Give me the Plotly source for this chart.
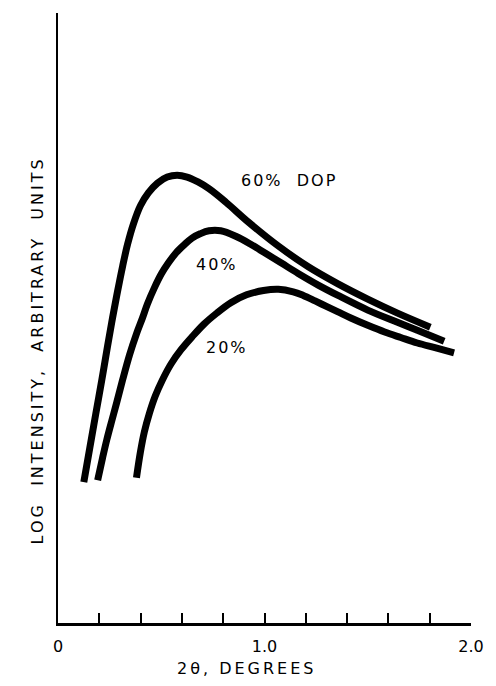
import plotly.graph_objects as go

# Scattering angle 2θ (degrees) and log intensity (arbitrary units) for each degree of polymerisation
x60 = [0.125, 0.154, 0.183, 0.212, 0.240, 0.264, 0.288, 0.313, 0.337, 0.365, 0.399, 0.4375, 0.481,
       0.529, 0.577, 0.625, 0.678, 0.731, 0.8125, 0.923, 1.067, 1.212, 1.356, 1.500, 1.644, 1.803]
y60 = [2.31, 2.87, 3.43, 3.98, 4.54, 5.00, 5.43, 5.85, 6.21, 6.54, 6.84, 7.05, 7.21,
       7.31, 7.34, 7.31, 7.23, 7.12, 6.90, 6.57, 6.18, 5.84, 5.56, 5.31, 5.08, 4.85]

x40 = [0.192, 0.216, 0.236, 0.260, 0.284, 0.3125, 0.346, 0.380, 0.409, 0.433, 0.466, 0.500, 0.534,
       0.572, 0.611, 0.649, 0.688, 0.731, 0.788, 0.861, 0.933, 1.005, 1.082, 1.163, 1.260, 1.356,
       1.500, 1.644, 1.740, 1.870]
y40 = [2.34, 2.71, 3.00, 3.31, 3.61, 3.98, 4.39, 4.74, 5.00, 5.23, 5.49, 5.72, 5.90,
       6.07, 6.20, 6.31, 6.38, 6.43, 6.43, 6.34, 6.21, 6.06, 5.90, 5.73, 5.54, 5.37,
       5.13, 4.93, 4.80, 4.62]

x20 = [0.380, 0.399, 0.418, 0.442, 0.471, 0.505, 0.548, 0.596, 0.649, 0.707, 0.769, 0.837,
       0.913, 0.995, 1.067, 1.139, 1.188, 1.245, 1.300, 1.356, 1.418, 1.500, 1.582, 1.660,
       1.740, 1.830, 1.918]
y20 = [2.38, 2.80, 3.13, 3.43, 3.72, 3.98, 4.25, 4.48, 4.69, 4.90, 5.08, 5.25,
       5.38, 5.45, 5.47, 5.43, 5.37, 5.28, 5.19, 5.10, 5.00, 4.88, 4.77, 4.68,
       4.59, 4.51, 4.43]

tick_vals = [0.0, 0.2, 0.4, 0.6, 0.8, 1.0, 1.2, 1.4, 1.6, 1.8, 2.0]
tick_text = ["0", "", "", "", "", "1.0", "", "", "", "", "2.0"]

# curve labels: (text, x, y)
labels = [
    ("60%&nbsp;&nbsp;DOP", 1.12, 7.25),
    ("40%", 0.77, 5.87),
    ("20%", 0.82, 4.52),
]

FONT = "DejaVu Sans"
INK = "#000000"

fig = go.Figure()
for xs, ys in [(x60, y60), (x40, y40), (x20, y20)]:
    fig.add_trace(go.Scatter(
        x=xs, y=ys, mode="lines",
        line=dict(color=INK, width=7, shape="spline", smoothing=1.0),
        hoverinfo="skip", showlegend=False,
    ))

for text, lx, ly in labels:
    fig.add_annotation(
        x=lx, y=ly, xref="x", yref="y", showarrow=False,
        xanchor="center", yanchor="middle",
        text=f'<span style="letter-spacing:2px">{text}</span>',
        font=dict(family=FONT, size=16, color=INK),
    )

# axis titles
fig.add_annotation(
    x=0.457, y=-0.074, xref="paper", yref="paper", showarrow=False,
    xanchor="center", yanchor="middle",
    text='<span style="letter-spacing:3px">2θ,&nbsp;DEGREES</span>',
    font=dict(family=FONT, size=16, color=INK),
)
fig.add_annotation(
    x=-0.05, y=0.4475, xref="paper", yref="paper", showarrow=False,
    xanchor="center", yanchor="middle", textangle=-90,
    text='<span style="letter-spacing:3px">LOG&nbsp;&nbsp;INTENSITY,&nbsp;&nbsp;ARBITRARY&nbsp;&nbsp;UNITS</span>',
    font=dict(family=FONT, size=16, color=INK),
)

fig.update_layout(
    width=496, height=686,
    margin=dict(l=58, r=22, t=13, b=63),
    paper_bgcolor="white", plot_bgcolor="white",
    font=dict(family=FONT, size=16, color=INK),
    xaxis=dict(
        range=[0, 2.0], tickmode="array", tickvals=tick_vals, ticktext=tick_text,
        ticks="inside", ticklen=10, tickwidth=2, tickcolor=INK,
        showline=True, linecolor=INK, linewidth=2.5,
        showgrid=False, zeroline=False, ticklabelstandoff=7,
        tickfont=dict(family=FONT, size=16, color=INK),
    ),
    yaxis=dict(
        range=[0, 10], showticklabels=False, ticks="",
        showline=True, linecolor=INK, linewidth=2,
        showgrid=False, zeroline=False,
    ),
)

fig.write_html("out.html")
